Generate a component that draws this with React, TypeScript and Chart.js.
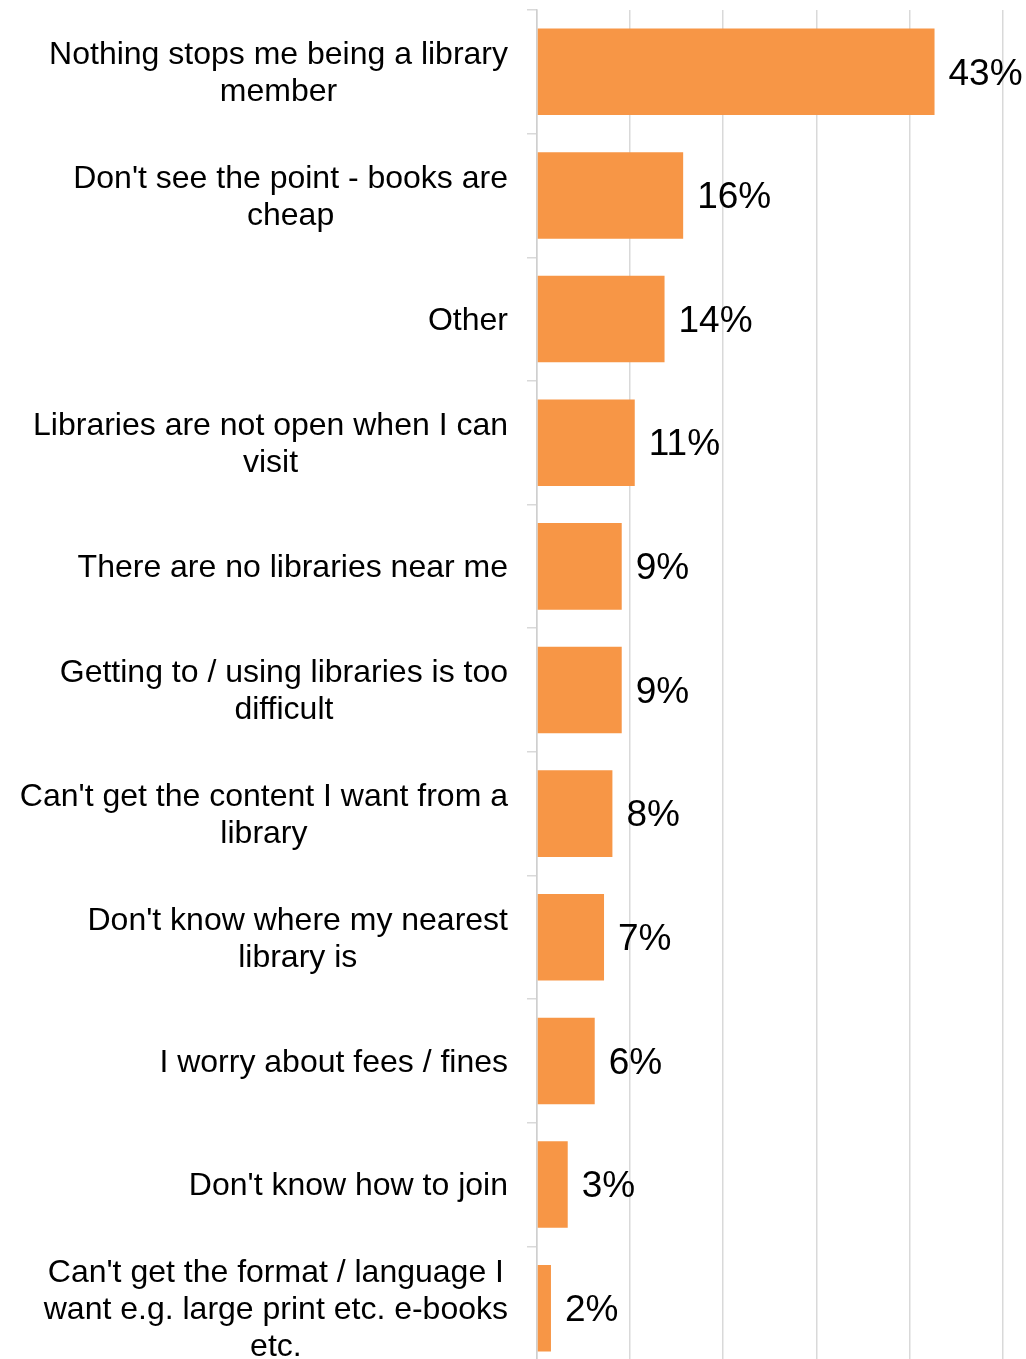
import React, { useEffect, useRef } from "react";
import { Chart, registerables } from "chart.js";

Chart.register(...registerables);

const categories: string[][] = [
  ["Nothing stops me being a library", "member"],
  ["Don't see the point - books are", "cheap"],
  ["Other"],
  ["Libraries are not open when I can", "visit"],
  ["There are no libraries near me"],
  ["Getting to / using libraries is too", "difficult"],
  ["Can't get the content I want from a", "library"],
  ["Don't know where my nearest", "library is"],
  ["I worry about fees / fines"],
  ["Don't know how to join"],
  ["Can't get the format / language I", "want e.g. large print etc. e-books", "etc."],
];

const values: number[] = [42.7, 15.7, 13.7, 10.5, 9.1, 9.1, 8.1, 7.2, 6.2, 3.3, 1.5];

const valueLabels: string[] = ["43%", "16%", "14%", "11%", "9%", "9%", "8%", "7%", "6%", "3%", "2%"];

const xTicks: number[] = [0, 10, 20, 30, 40, 50];

const FONT = "'Liberation Sans', Arial, sans-serif";
const BAR_COLOR = "#F79646";
const GRID_COLOR = "#d9d9d9";

const labelPlugin = {
  id: "customLabels",
  afterDatasetsDraw(chart: any) {
    const ctx = chart.ctx;
    const meta = chart.getDatasetMeta(0);
    const yScale = chart.scales.y;
    ctx.save();
    // value labels
    ctx.font = `37px ${FONT}`;
    ctx.fillStyle = "#000";
    ctx.textAlign = "left";
    ctx.textBaseline = "middle";
    meta.data.forEach((bar: any, i: number) => {
      ctx.fillText(valueLabels[i], bar.x + 14, bar.y + 2.5);
    });
    // category labels
    ctx.font = `32px ${FONT}`;
    const rightX = yScale.right - 29;
    const lineH = 36.8;
    categories.forEach((lines, i) => {
      const cy = yScale.getPixelForValue(i) + 2;
      const widths = lines.map((l) => ctx.measureText(l).width);
      const maxW = Math.max(...widths);
      const cx = rightX - maxW / 2;
      ctx.textAlign = "center";
      const startY = cy - ((lines.length - 1) * lineH) / 2;
      lines.forEach((l, j) => {
        ctx.fillText(l, cx, startY + j * lineH);
      });
    });
    ctx.restore();
  },
};

export default function App() {
  const ref = useRef<HTMLCanvasElement | null>(null);

  useEffect(() => {
    if (!ref.current) return;
    const chart = new Chart(ref.current, {
      type: "bar",
      data: {
        labels: categories.map((c) => c.join(" ")),
        datasets: [
          {
            data: values,
            backgroundColor: BAR_COLOR,
            borderWidth: 0,
            barPercentage: 0.7,
            categoryPercentage: 1,
          },
        ],
      },
      options: {
        indexAxis: "y",
        animation: false,
        responsive: false,
        maintainAspectRatio: false,
        devicePixelRatio: 1,
        layout: { padding: { top: 10, right: 23.5, bottom: 0, left: 0 } },
        plugins: {
          legend: { display: false },
          tooltip: { enabled: false },
          title: { display: false },
        },
        scales: {
          x: {
            type: "linear",
            position: "bottom",
            min: xTicks[0],
            max: xTicks[xTicks.length - 1],
            afterBuildTicks: (scale: any) => {
              scale.ticks = xTicks.map((v) => ({ value: v }));
            },
            ticks: { display: false },
            grid: {
              display: true,
              drawOnChartArea: true,
              drawTicks: false,
              color: GRID_COLOR,
              lineWidth: 1.5,
            },
            border: { display: false },
            afterFit: (scale: any) => {
              scale.height = 0;
              scale.paddingLeft = 0;
              scale.paddingRight = 0;
            },
          },
          y: {
            type: "category",
            position: "left",
            ticks: { display: false },
            grid: {
              display: true,
              drawOnChartArea: false,
              drawTicks: true,
              tickLength: 10,
              offset: true,
              color: GRID_COLOR,
              lineWidth: 1.5,
            },
            border: { display: true, color: "#cfcfcf", width: 1.5 },
            afterFit: (scale: any) => {
              scale.width = 537;
              scale.paddingTop = 0;
              scale.paddingBottom = 0;
            },
          },
        },
      } as any,
      plugins: [labelPlugin],
    });
    return () => chart.destroy();
  }, []);

  return (
    <div
      style={{
        position: "fixed",
        left: 0,
        top: 0,
        width: 1026,
        height: 1359,
        overflow: "hidden",
        background: "#fff",
      }}
    >
      <canvas
        ref={ref}
        width={1026}
        height={1370}
        style={{ display: "block", width: 1026, height: 1370 }}
      />
    </div>
  );
}
